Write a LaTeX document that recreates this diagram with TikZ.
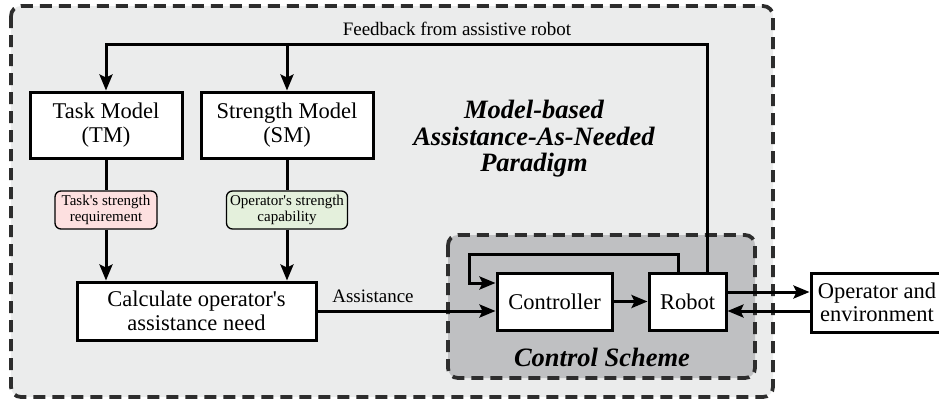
\documentclass[tikz,border=0pt]{standalone}
\usepackage{fontspec}
\setmainfont{Liberation Serif}
\usetikzlibrary{arrows.meta,calc}
\definecolor{outerfill}{RGB}{235,236,236}
\definecolor{innerfill}{RGB}{191,192,194}
\definecolor{dashcol}{RGB}{45,45,45}
\definecolor{pinkfill}{RGB}{253,224,224}
\definecolor{greenfill}{RGB}{228,240,220}
\tikzset{
  region/.style={draw=dashcol, line width=3.8pt, dash pattern=on 12pt off 7pt, rounded corners=10pt},
  block/.style={draw=black, fill=white, line width=3pt, inner sep=0pt, align=center,
    font=\fontsize{22.5}{23.5}\selectfont},
  tag/.style={draw=black, line width=1.3pt, rounded corners=6pt, inner sep=0pt, align=center,
    font=\fontsize{15}{16}\selectfont},
  conn/.style={line width=3pt},
  arr/.style={conn, -{Stealth[length=16pt,width=13pt,inset=3pt]}},
  heading/.style={font=\fontsize{26.5}{26.5}\selectfont\bfseries\itshape, align=center},
  plain/.style={font=\fontsize{19}{20}\selectfont}
}
\begin{document}
\begin{tikzpicture}[x=1pt,y=-1pt]
\useasboundingbox (0,0) rectangle (939,400);
% regions
\draw[region, fill=outerfill] (11,6) rectangle (773,397);
\draw[region, fill=innerfill] (448,235) rectangle (755,378);
% nodes
\node[block, minimum width=152pt, minimum height=66pt] (tm) at (106,125) {Task Model\\(TM)};
\node[block, minimum width=172pt, minimum height=66pt] (sm) at (287,125) {Strength Model\\(SM)};
\node[tag, fill=pinkfill, minimum width=102pt, minimum height=38pt] (req) at (106,210) {Task\textquotesingle s strength\\requirement};
\node[tag, fill=greenfill, minimum width=121pt, minimum height=38pt] (cap) at (287,210) {Operator\textquotesingle s strength\\capability};
\node[block, minimum width=239pt, minimum height=58pt] (calc) at (196.5,311) {Calculate operator\textquotesingle s\\assistance need};
\node[block, minimum width=115pt, minimum height=57pt] (ctrl) at (554.5,301.5) {Controller};
\node[block, minimum width=77pt, minimum height=57pt] (robot) at (687.5,301.5) {Robot};
\node[block, minimum width=132pt, minimum height=59pt] (op) at (877,302.5) {Operator and\\environment};
\node[heading] (mbt) at (534,139) {Model-based\\Assistance-As-Needed\\Paradigm};
\node[heading] (cst) at (602,357) {Control Scheme};
\node[plain] (fbt) at (457,29) {Feedback from assistive robot};
\node[plain] (ast) at (373,296) {Assistance};
% coordinates
\coordinate (fbR) at (707,44);
\coordinate (fbL) at (106,44);
\coordinate (loopR) at (678,254);
\coordinate (loopL) at (469,254);
\coordinate (loopIn) at (469,283);
\coordinate (o1) at (0,292);
\coordinate (o2) at (0,311);
% connectors
\draw[arr] (robot.north -| fbR) -- (fbR) -- (fbL) -- (tm.north);
\draw[arr] (sm.north |- fbL) -- (sm.north);
\draw[conn] (tm.south) -- (req.north);
\draw[conn] (sm.south) -- (cap.north);
\draw[arr] (req.south) -- (req.south |- calc.north);
\draw[arr] (cap.south) -- (cap.south |- calc.north);
\draw[arr] (calc.east) -- (calc.east -| ctrl.west);
\draw[arr] (robot.north -| loopR) -- (loopR) -- (loopL) -- (loopIn) -- (loopIn -| ctrl.west);
\draw[arr] (ctrl.east) -- (robot.west);
\draw[arr] (robot.east |- o1) -- (op.west |- o1);
\draw[arr] (op.west |- o2) -- (robot.east |- o2);
\end{tikzpicture}
\end{document}
